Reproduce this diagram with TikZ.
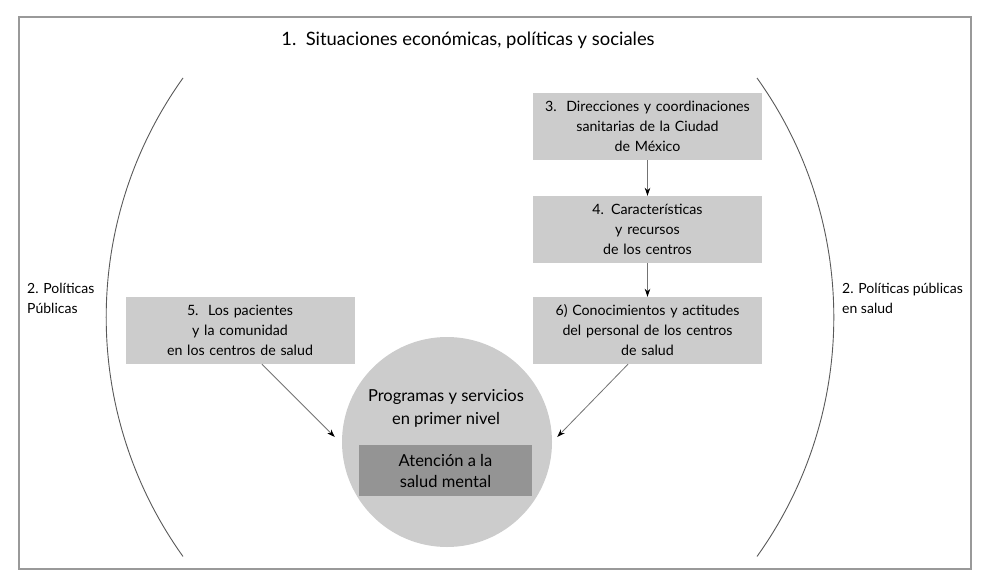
\documentclass[tikz,border=0pt]{standalone}
\usepackage{fontspec}
\setmainfont{Lato}
\usetikzlibrary{arrows.meta,positioning}

\def\boxsep{103pt}

\begin{document}
\begin{tikzpicture}[x=1pt,y=-1pt,>={Stealth[length=8pt,width=5.5pt,color=black]}, node distance=\boxsep]
	\tikzstyle{factor}=[rectangle,fill=black!20,minimum width=229pt,minimum height=67pt,inner sep=0pt,text width=225pt,align=center,font=\fontsize{14.2}{20}\selectfont]
	\tikzstyle{policy}=[anchor=north west,align=left,inner sep=0pt,font=\fontsize{14}{20}\selectfont]
	\tikzstyle{link}=[->,draw=black!55,line width=0.8pt]
	\tikzstyle{side arc}=[draw=black!65,line width=0.9pt]

	\useasboundingbox (0,0) rectangle (990,586);

	% Draw the outer frame and its title
	\draw[black!40,line width=1.5pt] (19,17) rectangle (971,569);
	\node[font=\fontsize{18.4}{22}\selectfont] (title) at (468,40) {1.\, Situaciones económicas, políticas y sociales};

	% Draw the two side arcs
	\draw[side arc] (183,78) arc[start angle=215.6, end angle=144.4, radius=411];
	\draw[side arc] (757,78) arc[start angle=-35.6, end angle=35.6, radius=411];
	\node[policy] (pol-l) at (27,283) {2. Políticas\\Públicas};
	\node[policy] (pol-r) at (842,283) {2. Políticas públicas\\en salud};

	% Draw the factor boxes
	\node[factor] (F-3) at (647.5,126.5) {3.\, Direcciones y coordinaciones\\sanitarias de la Ciudad\\de México};
	\node[factor, below of=F-3] (F-4) {4. Características\\y recursos\\de los centros};
	\node[factor, below of=F-4, node distance=101pt] (F-6) {6) Conocimientos y actitudes\\del personal de los centros\\de salud};
	\node[factor] (F-5) at (240,330.5) {5.\, Los pacientes\\y la comunidad\\en los centros de salud};

	% Draw the programmes circle with the mental health box
	\node[circle,fill=black!20,minimum size=210pt,inner sep=0pt] (C) at (447,442) {};
	\node[font=\fontsize{16.5}{23}\selectfont,align=center] (prog) at (446,408.5) {Programas y servicios\\en primer nivel};
	\node[rectangle,fill=black!42,minimum width=173pt,minimum height=51pt,inner sep=0pt,align=center,font=\fontsize{16.5}{21}\selectfont] (salud) at (445.5,470.5) {Atención a la\\salud mental};

	% Connect the boxes
	\draw[link] (F-3) -- (F-4);
	\draw[link] (F-4) -- (F-6);
	\draw[link] ([xshift=22pt]F-5.south) -- ([xshift=-7pt,yshift=5pt]C.west);
	\draw[link] ([xshift=-19.5pt]F-6.south) -- ([xshift=5pt,yshift=5pt]C.east);
\end{tikzpicture}
\end{document}
